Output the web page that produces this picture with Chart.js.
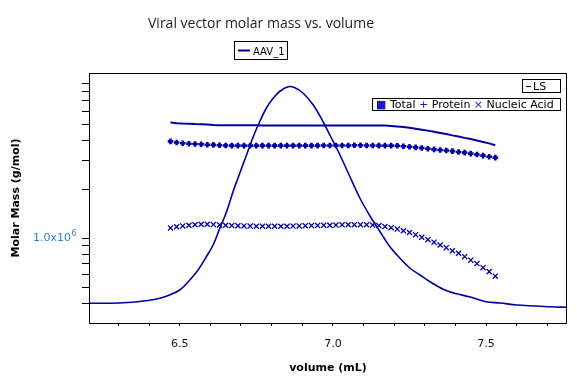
<!DOCTYPE html>
<html>
<head>
<meta charset="utf-8">
<title>Viral vector molar mass vs. volume</title>
<script src="https://cdn.jsdelivr.net/npm/chart.js@4.4.1/dist/chart.umd.min.js"></script>
<style>
  html, body { margin: 0; padding: 0; background: #fff; }
  canvas { display: block; }
</style>
</head>
<body>
<canvas id="mainChart" width="577" height="385"></canvas>
<script>
// Light scattering trace (relative detector signal)
const lsVolume = [6.206, 6.304, 6.363, 6.402, 6.435, 6.467, 6.500, 6.533, 6.560, 6.587,
    6.609, 6.631, 6.653, 6.674, 6.696, 6.718, 6.740, 6.761, 6.783, 6.805,
    6.827, 6.854, 6.876, 6.903, 6.936, 6.968, 6.990, 7.023, 7.056, 7.088,
    7.121, 7.154, 7.186, 7.219, 7.252, 7.284, 7.317, 7.360, 7.400, 7.448,
    7.500, 7.546, 7.600, 7.709, 7.765];
const lsSignal = [0.079, 0.080, 0.085, 0.091, 0.099, 0.112, 0.132, 0.172, 0.212, 0.265,
    0.312, 0.379, 0.445, 0.525, 0.599, 0.672, 0.745, 0.805, 0.860, 0.899,
    0.927, 0.945, 0.941, 0.919, 0.872, 0.805, 0.752, 0.672, 0.584, 0.500,
    0.428, 0.365, 0.305, 0.259, 0.219, 0.192, 0.165, 0.135, 0.118, 0.104,
    0.085, 0.080, 0.072, 0.065, 0.063];

// Molar mass slices (volume in mL, mass in MDa)
const massVolume = [6.47, 6.49, 6.51, 6.53, 6.55, 6.57, 6.59, 6.61, 6.63, 6.65,
    6.67, 6.69, 6.71, 6.73, 6.75, 6.77, 6.79, 6.81, 6.83, 6.85,
    6.87, 6.89, 6.91, 6.93, 6.95, 6.97, 6.99, 7.01, 7.03, 7.05,
    7.07, 7.09, 7.11, 7.13, 7.15, 7.17, 7.19, 7.21, 7.23, 7.25,
    7.27, 7.29, 7.31, 7.33, 7.35, 7.37, 7.39, 7.41, 7.43, 7.45,
    7.47, 7.49, 7.51, 7.53];
const totalMass = [5.16, 5.11, 5.08, 5.07, 5.05, 5.04, 5.02, 4.98, 4.97, 4.96,
    4.96, 4.96, 4.96, 4.96, 4.96, 4.95, 4.95, 4.95, 4.95, 4.95,
    4.95, 4.95, 4.95, 4.95, 4.95, 4.95, 4.95, 4.95, 4.95, 4.95,
    4.95, 4.95, 4.95, 4.95, 4.94, 4.94, 4.91, 4.88, 4.84, 4.79,
    4.73, 4.66, 4.60, 4.53, 4.45, 4.38, 4.30, 4.23, 4.15, 4.08,
    4.00, 3.92, 3.84, 3.74];
const proteinMass = [3.95, 3.89, 3.85, 3.82, 3.81, 3.79, 3.77, 3.76, 3.74, 3.73,
    3.72, 3.72, 3.72, 3.72, 3.72, 3.72, 3.72, 3.72, 3.72, 3.72,
    3.72, 3.72, 3.72, 3.72, 3.72, 3.73, 3.73, 3.73, 3.73, 3.73,
    3.74, 3.74, 3.73, 3.73, 3.72, 3.72, 3.72, 3.71, 3.69, 3.66,
    3.63, 3.60, 3.56, 3.53, 3.50, 3.47, 3.44, 3.40, 3.37, 3.32,
    3.28, 3.23, 3.18, 3.14];
const nucleicMass = [1.160, 1.180, 1.193, 1.205, 1.213, 1.222, 1.222, 1.217, 1.210, 1.205,
    1.200, 1.196, 1.193, 1.191, 1.188, 1.188, 1.188, 1.188, 1.188, 1.188,
    1.191, 1.193, 1.196, 1.200, 1.202, 1.205, 1.205, 1.208, 1.212, 1.213,
    1.213, 1.215, 1.213, 1.208, 1.200, 1.183, 1.163, 1.142, 1.115, 1.087,
    1.054, 1.017, 0.982, 0.948, 0.911, 0.877, 0.840, 0.811, 0.772, 0.735,
    0.700, 0.661, 0.625, 0.586];

// Axis ticks
const xTicks = [6.3, 6.4, 6.5, 6.6, 6.7, 6.8, 6.9, 7.0, 7.1, 7.2, 7.3, 7.4, 7.5, 7.6, 7.7];
const yTicks = [4e5, 5e5, 6e5, 7e5, 8e5, 9e5, 1e6, 2e6, 3e6, 4e6, 5e6, 6e6, 7e6, 8e6, 9e6];
const yLabelValue = 1e6;

const chartTitle = 'Viral vector molar mass vs. volume';
const seriesName = 'AAV_1';
const lineColor = '#0000a0';
const markColor = '#1c1cc0';
const tickLabelColor = '#2f7fd0';

const massPoints = (vals) => massVolume.map((x, i) => ({ x, y: vals[i] * 1e6 }));

// Title, legends, exponent and plot frame
const decor = {
    id: 'decor',
    afterDraw(chart) {
        const { ctx, chartArea: a } = chart;
        ctx.save();
        ctx.strokeStyle = '#000';
        ctx.lineWidth = 1;
        ctx.strokeRect(Math.round(a.left) + 0.5, Math.round(a.top) + 0.5,
            Math.round(a.right - a.left) - 1, Math.round(a.bottom - a.top));

        // exponent of the 1.0x10 tick label
        const yPix = chart.scales.y.getPixelForValue(yLabelValue);
        ctx.fillStyle = tickLabelColor;
        ctx.font = '8px "DejaVu Sans"';
        ctx.textAlign = 'left';
        ctx.fillText('6', 71.5, yPix - 2);

        ctx.fillStyle = '#222';
        ctx.font = '14px "Open Sans"';
        ctx.textAlign = 'center';
        ctx.textBaseline = 'alphabetic';
        ctx.fillText(chartTitle, 261, 28);

        // series legend
        ctx.strokeRect(234.5, 41.5, 53, 18);
        ctx.strokeStyle = lineColor;
        ctx.lineWidth = 2;
        ctx.beginPath(); ctx.moveTo(238, 50.5); ctx.lineTo(250, 50.5); ctx.stroke();
        ctx.fillStyle = '#000';
        ctx.font = '10px "DejaVu Sans"';
        ctx.textAlign = 'left';
        ctx.fillText(seriesName, 253, 54.5);

        // detector legend
        ctx.strokeStyle = '#000';
        ctx.lineWidth = 1;
        ctx.strokeRect(522.5, 79.5, 38, 13);
        ctx.strokeStyle = lineColor;
        ctx.beginPath(); ctx.moveTo(526, 86.5); ctx.lineTo(531, 86.5); ctx.stroke();
        ctx.font = '11px "DejaVu Sans"';
        ctx.fillText('LS', 533, 90);

        // molar mass legend
        ctx.strokeStyle = '#000';
        ctx.strokeRect(372.5, 98.5, 188, 12);
        const parts = [['\u25A0 ', markColor], ['Total ', '#000'], ['+ ', markColor],
            ['Protein ', '#000'], ['\u00D7 ', markColor], ['Nucleic Acid', '#000']];
        let x = 376;
        parts.forEach(([t, c]) => {
            ctx.fillStyle = c;
            ctx.fillText(t, x, 108);
            x += ctx.measureText(t).width;
        });
        ctx.restore();
    }
};

const ctx = document.getElementById('mainChart').getContext('2d');
const chart = new Chart(ctx, {
    type: 'scatter',
    data: {
        datasets: [{
            label: 'LS',
            data: lsVolume.map((x, i) => ({ x, y: lsSignal[i] })),
            yAxisID: 'y2',
            showLine: true,
            borderColor: lineColor,
            borderWidth: 1.6,
            pointRadius: 0,
            tension: 0.35
        }, {
            label: 'Total',
            data: massPoints(totalMass),
            showLine: true,
            borderColor: lineColor,
            borderWidth: 2,
            pointRadius: 0
        }, {
            label: 'Protein',
            data: massPoints(proteinMass),
            pointStyle: 'cross',
            pointRadius: 2.8,
            pointBorderWidth: 2.6,
            borderColor: lineColor,
            backgroundColor: lineColor
        }, {
            label: 'Nucleic Acid',
            data: massPoints(nucleicMass),
            pointStyle: 'crossRot',
            pointRadius: 3.6,
            pointBorderWidth: 1.3,
            borderColor: lineColor,
            backgroundColor: lineColor
        }]
    },
    options: {
        responsive: false,
        animation: false,
        layout: { padding: { top: 73, right: 10, left: 0, bottom: 0 } },
        plugins: {
            legend: { display: false },
            title: { display: false },
            tooltip: { enabled: false }
        },
        scales: {
            x: {
                type: 'linear',
                min: 6.204,
                max: 7.764,
                afterBuildTicks: (s) => { s.ticks = xTicks.map(v => ({ value: v })); },
                afterFit: (s) => { s.height = 62; },
                border: { display: false },
                grid: { drawOnChartArea: false, tickLength: 3, color: '#000' },
                ticks: {
                    autoSkip: false,
                    maxRotation: 0,
                    padding: 12,
                    color: '#111',
                    font: { family: 'DejaVu Sans', size: 11 },
                    callback: (v) => Math.abs(v * 2 - Math.round(v * 2)) < 1e-6 ? v.toFixed(1) : ''
                },
                title: {
                    display: true,
                    text: 'volume (mL)',
                    color: '#000',
                    font: { family: 'DejaVu Sans', size: 11, weight: 'bold' },
                    padding: { top: 0, bottom: 10 }
                }
            },
            y: {
                type: 'logarithmic',
                min: 3.02e5,
                max: 1.04e7,
                afterBuildTicks: (s) => { s.ticks = yTicks.map(v => ({ value: v })); },
                afterFit: (s) => { s.width = 89; },
                border: { display: false },
                grid: { drawOnChartArea: false, tickLength: 7, color: '#000' },
                ticks: {
                    autoSkip: false,
                    padding: 11,
                    color: tickLabelColor,
                    font: { family: 'DejaVu Sans', size: 11 },
                    callback: (v) => v === yLabelValue ? '1.0x10' : ''
                },
                title: {
                    display: true,
                    text: 'Molar Mass (g/mol)',
                    color: '#000',
                    font: { family: 'DejaVu Sans', size: 11, weight: 'bold' },
                    padding: { top: 10, bottom: 0 }
                }
            },
            y2: {
                type: 'linear',
                display: false,
                min: 0,
                max: 1
            }
        }
    },
    plugins: [decor]
});
</script>
</body>
</html>
